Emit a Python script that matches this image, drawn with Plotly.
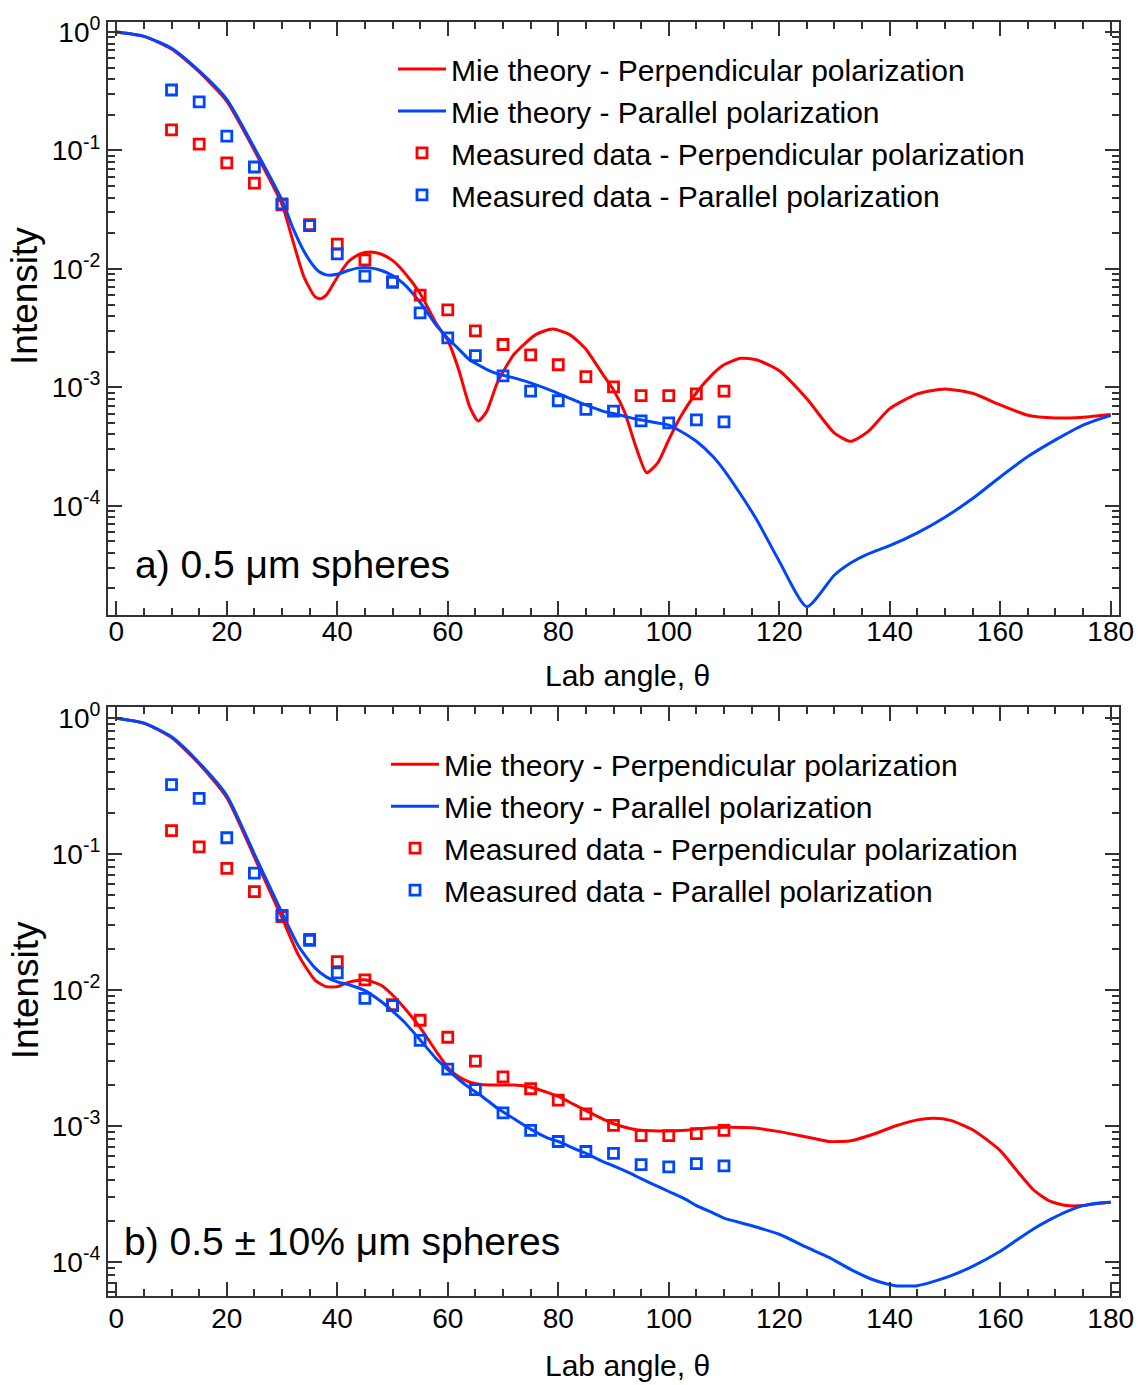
import plotly.graph_objects as go

# ---------------- data ----------------
theta_meas = [10, 15, 20, 25, 30, 35, 40, 45, 50, 55, 60, 65, 70, 75, 80, 85, 90, 95, 100, 105, 110]
meas_perp = [0.149, 0.113, 0.0785, 0.053, 0.0347, 0.0236, 0.0162, 0.0119, 0.0078, 0.0060, 0.0045,
             0.0030, 0.0023, 0.00188, 0.00155, 0.00123, 0.00101, 0.00085, 0.00085, 0.00088, 0.00093]
meas_para = [0.324, 0.257, 0.132, 0.0725, 0.0354, 0.0232, 0.0134, 0.0087, 0.0077, 0.00426, 0.00262,
             0.00185, 0.00125, 0.00093, 0.00077, 0.00065, 0.00063, 0.00052, 0.00050, 0.00053, 0.00051]

# panel a) monodisperse Mie theory
theta_a = [0, 5, 10, 15, 20, 25, 30, 32, 34, 36, 37, 38, 40, 42, 44, 46, 48, 50, 52, 55, 58, 60, 62, 64,
           65.5, 67, 69, 72, 76, 79, 82, 85, 88, 90, 92, 94, 96, 98, 100, 102, 105, 108, 110, 113, 116,
           120, 125, 130, 133, 136, 140, 145, 150, 155, 160, 165, 170, 175, 180]
mie_perp_a = [1.0, 0.92, 0.72, 0.46, 0.26, 0.1, 0.035, 0.017, 0.0085, 0.0058, 0.0056, 0.0060, 0.0085,
              0.0115, 0.0133, 0.0139, 0.0133, 0.0118, 0.0095, 0.0062, 0.0034, 0.0025, 0.0014, 0.00068,
              0.00052, 0.00062, 0.0011, 0.0019, 0.0028, 0.0031, 0.0028, 0.0021, 0.0013, 0.00095, 0.00062,
              0.00032, 0.00019, 0.00023, 0.00036, 0.00055, 0.00090, 0.00130, 0.00155, 0.00176, 0.00170,
              0.00138, 0.00080, 0.00041, 0.00035, 0.00042, 0.00066, 0.00088, 0.00097, 0.00089, 0.00071,
              0.00058, 0.00055, 0.00056, 0.00059]
mie_para_a = [1.0, 0.92, 0.73, 0.47, 0.27, 0.105, 0.038, 0.022, 0.014, 0.0102, 0.0093, 0.0089, 0.0090,
              0.0097, 0.0102, 0.0102, 0.0097, 0.0088, 0.0075, 0.0052, 0.0033, 0.0026, 0.0021, 0.0017,
              0.00155, 0.00142, 0.0013, 0.0012, 0.00105, 0.00093, 0.00081, 0.00071, 0.00063, 0.00060,
              0.00057, 0.00054, 0.00052, 0.00050, 0.00048, 0.00043, 0.00035, 0.00026, 0.00020, 0.000125,
              7.5e-5, 3.4e-5, 1.4e-5, 2.6e-5, 3.3e-5, 3.9e-5, 4.6e-5, 5.9e-5, 8.0e-5, 1.15e-4, 1.75e-4,
              2.6e-4, 3.6e-4, 4.8e-4, 5.8e-4]

# panel b) 0.5 +/- 10% size distribution
theta_b = [0, 5, 10, 15, 20, 25, 30, 33, 36, 38, 40, 42, 45, 48, 50, 52, 55, 58, 60, 62, 64, 66, 69, 72,
           75, 78, 80, 83, 85, 88, 90, 93, 95, 98, 100, 103, 105, 108, 110, 115, 120, 125, 129, 133, 137,
           141, 145, 148, 151, 155, 160, 163, 166, 169, 172, 175, 178, 180]
mie_perp_b = [1.0, 0.92, 0.72, 0.46, 0.26, 0.095, 0.034, 0.018, 0.0118, 0.0106, 0.0106, 0.0114, 0.0119,
              0.0108, 0.0092, 0.0075, 0.0053, 0.0035, 0.0027, 0.0023, 0.0021, 0.00202, 0.00200, 0.00200,
              0.00193, 0.00177, 0.00165, 0.00143, 0.00130, 0.00113, 0.00104, 0.00096, 0.00093, 0.00092,
              0.00092, 0.00093, 0.00095, 0.00097, 0.00098, 0.00097, 0.00091, 0.00083, 0.00077, 0.00078,
              0.00087, 0.00100, 0.00111, 0.00114, 0.00110, 0.00094, 0.00066, 0.00047, 0.00034, 0.00028,
              0.00026, 0.00026, 0.00027, 0.000275]
mie_para_b = [1.0, 0.92, 0.73, 0.47, 0.27, 0.1, 0.037, 0.021, 0.0145, 0.0125, 0.0115, 0.0110, 0.0099,
              0.0082, 0.0070, 0.0059, 0.0043, 0.0031, 0.0026, 0.0022, 0.0019, 0.00168, 0.00135, 0.00113,
              0.00095, 0.00082, 0.00077, 0.00068, 0.00063, 0.00055, 0.00051, 0.00045, 0.00041, 0.00036,
              0.00033, 0.00029, 0.00026, 0.00023, 0.00021, 0.000185, 0.000160, 0.000128, 0.000108, 8.8e-5,
              7.4e-5, 6.7e-5, 6.7e-5, 7.2e-5, 7.9e-5, 9.3e-5, 1.2e-4, 1.45e-4, 1.75e-4, 2.05e-4, 2.35e-4,
              2.6e-4, 2.72e-4, 2.75e-4]

x_ticks = [0, 20, 40, 60, 80, 100, 120, 140, 160, 180]
y_ticks = [1, 0.1, 0.01, 0.001, 0.0001]
y_ticktext = ["10<sup>0</sup>", "10<sup>-1</sup>", "10<sup>-2</sup>", "10<sup>-3</sup>", "10<sup>-4</sup>"]
y_minor = [k * 10.0 ** e for e in range(-6, 1) for k in range(2, 10)]

names = ["Mie theory - Perpendicular polarization", "Mie theory - Parallel polarization",
         "Measured data - Perpendicular polarization", "Measured data - Parallel polarization"]

RED = "#ff0000"
BLUE = "#0046ff"
AX = "#333333"
FONT = "Liberation Sans, Arial, sans-serif"

fig = go.Figure()


def add_panel(th, perp, para, xa, ya, leg):
    fig.add_trace(go.Scatter(x=th, y=perp, mode="lines", name=names[0], line=dict(color=RED, width=3, shape="spline", smoothing=0.6),
                             xaxis=xa, yaxis=ya, legend=leg))
    fig.add_trace(go.Scatter(x=th, y=para, mode="lines", name=names[1], line=dict(color=BLUE, width=3, shape="spline", smoothing=0.6),
                             xaxis=xa, yaxis=ya, legend=leg))
    fig.add_trace(go.Scatter(x=theta_meas, y=meas_perp, mode="markers", name=names[2],
                             marker=dict(symbol="square-open", size=10, color=RED, line=dict(width=2.8, color=RED)),
                             xaxis=xa, yaxis=ya, legend=leg))
    fig.add_trace(go.Scatter(x=theta_meas, y=meas_para, mode="markers", name=names[3],
                             marker=dict(symbol="square-open", size=10, color=BLUE, line=dict(width=2.8, color=BLUE)),
                             xaxis=xa, yaxis=ya, legend=leg))


add_panel(theta_a, mie_perp_a, mie_para_a, "x", "y", "legend")
add_panel(theta_b, mie_perp_b, mie_para_b, "x2", "y2", "legend2")


def xcfg(anchor, standoff):
    return dict(anchor=anchor, domain=[0, 1], range=[-1.5, 181.5], tickmode="array", tickvals=x_ticks,
                ticks="inside", ticklen=14, tickwidth=2, tickcolor=AX, showline=True, linecolor=AX, linewidth=2,
                mirror="allticks", showgrid=False, zeroline=False, ticklabelstandoff=standoff,
                minor=dict(tickmode="linear", tick0=0, dtick=5, ticks="inside", ticklen=7, tickwidth=2, tickcolor=AX, showgrid=False),
                tickfont=dict(size=28, color="black"))


def ycfg(anchor, rng, dom):
    return dict(anchor=anchor, domain=dom, type="log", range=rng, tickmode="array", tickvals=y_ticks, ticktext=y_ticktext,
                ticks="inside", ticklen=14, tickwidth=2, tickcolor=AX, showline=True, linecolor=AX, linewidth=2,
                mirror="allticks", showgrid=False, zeroline=False,
                minor=dict(tickmode="array", tickvals=y_minor, ticks="inside", ticklen=7, tickwidth=2, tickcolor=AX, showgrid=False),
                tickfont=dict(size=28, color="black"))


legend_common = dict(xanchor="left", yanchor="top", font=dict(size=30, color="black", family=FONT),
                     bgcolor="rgba(0,0,0,0)", itemwidth=48, tracegroupgap=0)

PW = 1148 - 108 - 29
PH = 1385 - 17 - 89


def px_x(px):
    return (px - 108) / PW


def px_y(py):
    return (1296 - py) / PH


fig.update_layout(
    width=1148, height=1385,
    margin=dict(l=108, r=29, t=17, b=89),
    paper_bgcolor="white", plot_bgcolor="white",
    font=dict(family=FONT, color="black"),
    xaxis=xcfg("y", -9),
    yaxis=ycfg("x", [-4.92, 0.085], [0.5348, 1]),
    xaxis2=xcfg("y2", -4),
    yaxis2=ycfg("x2", [-4.25, 0.08], [0, 0.4621]),
    legend=dict(x=px_x(393), y=px_y(38), **legend_common),
    legend2=dict(x=px_x(386), y=px_y(736), **legend_common),
    showlegend=True,
    annotations=[
        dict(text="a) 0.5 μm spheres", x=3, y=-4.5, xref="x", yref="y", xanchor="left", yanchor="middle",
             showarrow=False, font=dict(size=39, color="black")),
        dict(text="b) 0.5 ± 10% μm spheres", x=1.0, y=-3.85, xref="x2", yref="y2", xanchor="left", yanchor="middle",
             showarrow=False, font=dict(size=39, color="black")),
        dict(text="Intensity", x=px_x(25), y=px_y(292), xref="paper", yref="paper", textangle=-90,
             xanchor="center", yanchor="middle", showarrow=False, font=dict(size=37, color="black")),
        dict(text="Intensity", x=px_x(25), y=px_y(989), xref="paper", yref="paper", textangle=-90,
             xanchor="center", yanchor="middle", showarrow=False, font=dict(size=37, color="black")),
        dict(text="Lab angle, θ", x=px_x(627), y=px_y(673), xref="paper", yref="paper",
             xanchor="center", yanchor="middle", showarrow=False, font=dict(size=30, color="black")),
        dict(text="Lab angle, θ", x=px_x(627), y=px_y(1366), xref="paper", yref="paper",
             xanchor="center", yanchor="middle", showarrow=False, font=dict(size=30, color="black")),
    ],
)

fig.write_html("out.html")
